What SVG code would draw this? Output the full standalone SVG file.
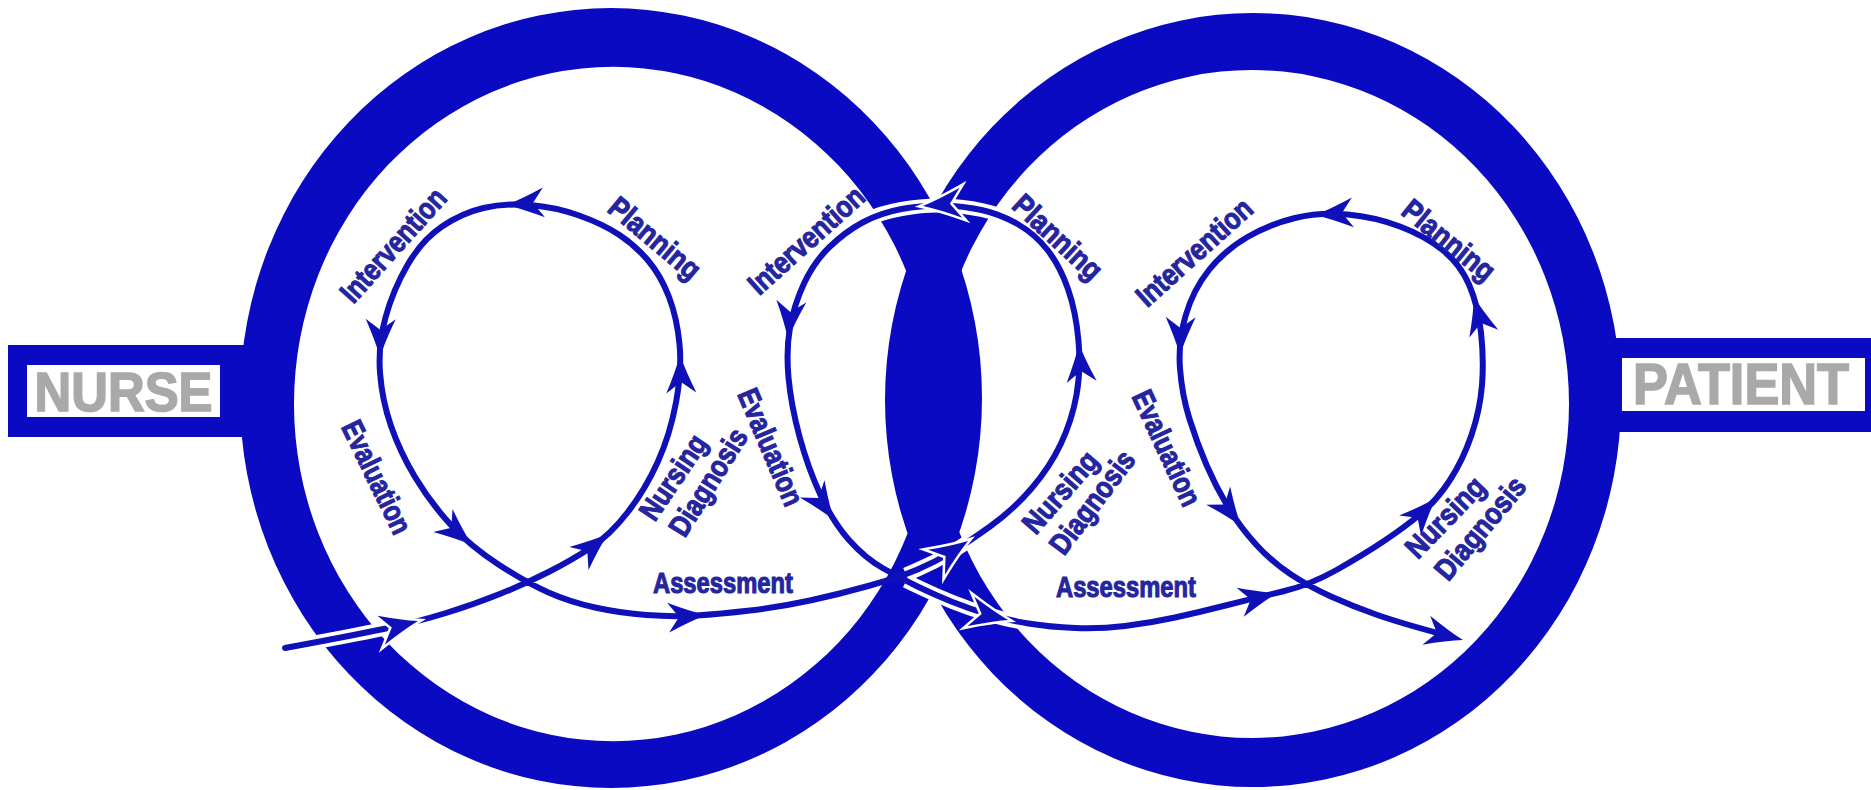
<svg xmlns="http://www.w3.org/2000/svg" xmlns:xlink="http://www.w3.org/1999/xlink" width="1871" height="790" viewBox="0 0 1871 790">
<style>
.ring{fill:#0a0ac2;fill-rule:evenodd}
.bar{fill:#0a0ac2}
.box{fill:#ffffff}
.tag{font-family:"Liberation Sans",Arial,sans-serif;font-weight:bold;fill:#a9a9a9;stroke:#a9a9a9;stroke-width:1.6;text-anchor:middle}
.flow{fill:none;stroke:#1010b8;stroke-width:6;stroke-linejoin:round;stroke-linecap:round}
.halo{fill:none;stroke:#ffffff;stroke-width:14;stroke-linecap:butt}
.ah{fill:#1010b8}
.ahw{fill:#1010b8;stroke:#ffffff;stroke-width:5;paint-order:stroke;stroke-linejoin:miter}
.lbl{font-family:"Liberation Sans",Arial,sans-serif;font-weight:bold;font-size:30px;fill:#25259f;stroke:#25259f;stroke-width:1.1;text-anchor:middle}
</style>
<defs>
<path id="ah" d="M0,0 Q-16,-5 -38,-15 L-27,0 L-38,15 Q-16,5 0,0 Z"/>
</defs>
<rect width="1871" height="790" fill="#ffffff"/>

<g id="nurse">
<rect class="bar" x="8" y="345" width="252" height="92"/>
<rect class="box" x="27" y="365" width="193" height="52"/>
<text class="tag" x="123.5" y="411" font-size="55" textLength="178" lengthAdjust="spacingAndGlyphs">NURSE</text>
</g>

<g id="patient">
<rect class="bar" x="1600" y="338" width="271" height="94"/>
<rect class="box" x="1622" y="358" width="243" height="53"/>
<text class="tag" x="1741" y="404" font-size="57" textLength="216" lengthAdjust="spacingAndGlyphs">PATIENT</text>
</g>

<g id="ring-nurse">
<path class="ring" d="M240,398 A371,390 0 1,0 982,398 A371,390 0 1,0 240,398 Z M294,404 A319,337 0 1,0 932,404 A319,337 0 1,0 294,404 Z"/>
</g>

<g id="ring-patient">
<path class="ring" d="M885,400 A368,387 0 1,0 1621,400 A368,387 0 1,0 885,400 Z M935,404 A317,334 0 1,0 1569,404 A317,334 0 1,0 935,404 Z"/>
</g>

<g id="connectors">
<path class="halo" d="M300,645 Q350,636 383.5,629 Q417,622 430,618"/>
<path class="halo" d="M906,574.5 L917.5,569.5 Q935,562 951,552.5 Q967,543 980,533"/>
<path class="halo" d="M906,581 L917.5,586.5 Q935,595 952.5,602 Q970,609 988.5,614.5 Q1007,620 1020,622"/>
<path class="halo" d="M1010,219 Q1000,214 981.5,210 Q963,206 943,205.5 Q923,205 901.5,209 Q880,213 868,219"/>
<path class="flow" d="M285,648 Q350,636 383.5,629 Q417,622 446,613 Q475,604 501,593.5 Q527,583 549.5,571.5 Q572,560 591,547.5 Q610,535 627.5,512.5 Q645,490 657.5,462.5 Q670,435 676,402.5 Q682,370 679.5,344 Q677,318 669,297 Q661,276 648.5,261 Q636,246 619.5,235 Q603,224 579,215.5 Q555,207 530,205 Q505,203 483.5,208 Q462,213 442,226.5 Q422,240 407.5,265 Q393,290 385.5,317.5 Q378,345 380,372.5 Q382,400 391,426 Q400,452 415,477 Q430,502 450,524 Q470,546 498.5,564.5 Q527,583 548.5,592.5 Q570,602 595,607.5 Q620,613 646.5,615 Q673,617 696.5,615.5 Q720,614 750,610.5 Q780,607 810,600.5 Q840,594 870,585.5 Q900,577 917.5,569.5 Q935,562 951,552.5 Q967,543 990,526.5 Q1013,510 1031.5,488.5 Q1050,467 1061,443.5 Q1072,420 1076.5,395 Q1081,370 1078.5,341 Q1076,312 1068,289 Q1060,266 1047.5,250 Q1035,234 1017.5,224 Q1000,214 981.5,210 Q963,206 943,205.5 Q923,205 901.5,209 Q880,213 862.5,222.5 Q845,232 829.5,247 Q814,262 804,283.5 Q794,305 790,327.5 Q786,350 788.5,377.5 Q791,405 799.5,436.5 Q808,468 820.5,495 Q833,522 849,540 Q865,558 882.5,568 Q900,578 917.5,586.5 Q935,595 952.5,602 Q970,609 988.5,614.5 Q1007,620 1028.5,623.5 Q1050,627 1075,628 Q1100,629 1125,626 Q1150,623 1175,617.5 Q1200,612 1227.5,605 Q1255,598 1282.5,591.5 Q1310,585 1336.5,570 Q1363,555 1384,541 Q1405,527 1421,513.5 Q1437,500 1450,480 Q1463,460 1471.5,435 Q1480,410 1482,385 Q1484,360 1481,332.5 Q1478,305 1469,284.5 Q1460,264 1442.5,250 Q1425,236 1400,226.5 Q1375,217 1347.5,214.5 Q1320,212 1295,218 Q1270,224 1247.5,237 Q1225,250 1209,270 Q1193,290 1185.5,316 Q1178,342 1180,368.5 Q1182,395 1189.5,419 Q1197,443 1206.5,465 Q1216,487 1228,507 Q1240,527 1256,544.5 Q1272,562 1291,574.5 Q1310,587 1331,596.5 Q1352,606 1376,614.5 Q1400,623 1445,635"/>
<use xlink:href="#ah" class="ahw" transform="translate(418,621) rotate(-14)"/>
<use xlink:href="#ah" class="ah" transform="translate(608,534) rotate(-40)"/>
<use xlink:href="#ah" class="ah" transform="translate(680,355) rotate(-92)"/>
<use xlink:href="#ah" class="ah" transform="translate(506,205) rotate(176)"/>
<use xlink:href="#ah" class="ah" transform="translate(380,357) rotate(91)"/>
<use xlink:href="#ah" class="ah" transform="translate(472,545) rotate(40)"/>
<use xlink:href="#ah" class="ah" transform="translate(706,615) rotate(-4)"/>
<use xlink:href="#ah" class="ahw" transform="translate(968,541) rotate(-34)"/>
<use xlink:href="#ah" class="ah" transform="translate(1079,344) rotate(-94)"/>
<use xlink:href="#ah" class="ahw" transform="translate(923,206) rotate(175)"/>
<use xlink:href="#ah" class="ah" transform="translate(788,339) rotate(95)"/>
<use xlink:href="#ah" class="ah" transform="translate(834,520) rotate(55)"/>
<use xlink:href="#ah" class="ahw" transform="translate(1008,620) rotate(13)"/>
<use xlink:href="#ah" class="ah" transform="translate(1277,593) rotate(-14)"/>
<use xlink:href="#ah" class="ah" transform="translate(1436,498) rotate(-47)"/>
<use xlink:href="#ah" class="ah" transform="translate(1474,297) rotate(-105)"/>
<use xlink:href="#ah" class="ah" transform="translate(1315,215) rotate(176)"/>
<use xlink:href="#ah" class="ah" transform="translate(1180,355) rotate(91)"/>
<use xlink:href="#ah" class="ah" transform="translate(1241,526) rotate(53)"/>
<use xlink:href="#ah" class="ah" transform="translate(1463,640) rotate(15)"/>
</g>

<g id="loop-nurse">
<text class="lbl" transform="translate(393,245) rotate(-48)" y="10.5" textLength="142" lengthAdjust="spacingAndGlyphs">Intervention</text>
<text class="lbl" transform="translate(655,238) rotate(40)" y="10.5" textLength="110" lengthAdjust="spacingAndGlyphs">Planning</text>
<text class="lbl" transform="translate(377,477) rotate(64)" y="10.5" textLength="122" lengthAdjust="spacingAndGlyphs">Evaluation</text>
<text class="lbl" transform="translate(673,477) rotate(-56)" y="10.5" textLength="96" lengthAdjust="spacingAndGlyphs">Nursing</text>
<text class="lbl" transform="translate(708,482) rotate(-58)" y="10.5" textLength="121" lengthAdjust="spacingAndGlyphs">Diagnosis</text>
<text class="lbl" x="723" y="593" textLength="140" lengthAdjust="spacingAndGlyphs">Assessment</text>
</g>

<g id="loop-shared">
<text class="lbl" transform="translate(806,240) rotate(-42)" y="10.5" textLength="145" lengthAdjust="spacingAndGlyphs">Intervention</text>
<text class="lbl" transform="translate(1058,237) rotate(43)" y="10.5" textLength="110" lengthAdjust="spacingAndGlyphs">Planning</text>
<text class="lbl" transform="translate(771,447) rotate(67)" y="10.5" textLength="124" lengthAdjust="spacingAndGlyphs">Evaluation</text>
<text class="lbl" transform="translate(1060,492) rotate(-49)" y="10.5" textLength="98" lengthAdjust="spacingAndGlyphs">Nursing</text>
<text class="lbl" transform="translate(1092,502) rotate(-53)" y="10.5" textLength="121" lengthAdjust="spacingAndGlyphs">Diagnosis</text>
<text class="lbl" x="1126" y="597" textLength="140" lengthAdjust="spacingAndGlyphs">Assessment</text>
</g>

<g id="loop-patient">
<text class="lbl" transform="translate(1194,252) rotate(-42)" y="10.5" textLength="145" lengthAdjust="spacingAndGlyphs">Intervention</text>
<text class="lbl" transform="translate(1449,240) rotate(39)" y="10.5" textLength="110" lengthAdjust="spacingAndGlyphs">Planning</text>
<text class="lbl" transform="translate(1167,448) rotate(65)" y="10.5" textLength="124" lengthAdjust="spacingAndGlyphs">Evaluation</text>
<text class="lbl" transform="translate(1445,517) rotate(-46)" y="10.5" textLength="100" lengthAdjust="spacingAndGlyphs">Nursing</text>
<text class="lbl" transform="translate(1480,528) rotate(-50)" y="10.5" textLength="124" lengthAdjust="spacingAndGlyphs">Diagnosis</text>
</g>
</svg>
